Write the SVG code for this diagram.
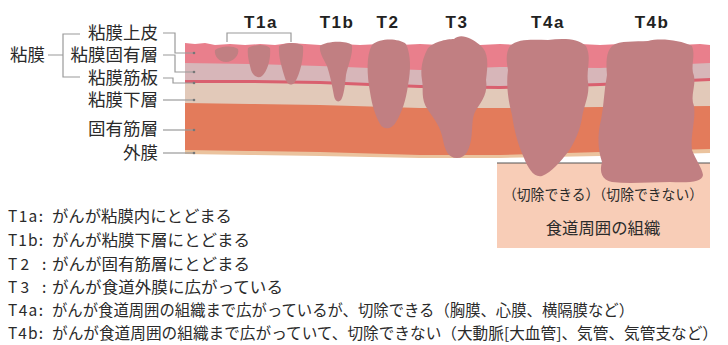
<svg xmlns="http://www.w3.org/2000/svg" width="728" height="345" viewBox="0 0 728 345">
  <style>
    .jp { font-family: "Noto Sans CJK JP", "Noto Sans", sans-serif; fill: #2a2a2a; }
    .lbl { font-size: 17.5px; text-anchor: end; }
    .leg { font-size: 15.5px; }
    .stage { font-family: "Liberation Sans", Arial, sans-serif; font-weight: bold; font-size: 17px; letter-spacing: 1.5px; fill: #222; text-anchor: middle; }
    .lead { fill: none; stroke: #9a9a9a; stroke-width: 1.2; }
    .dot { fill: #777; }
    .tumor { fill: #C17F82; }
  </style>

  <!-- wall layers, drawn deepest first so each upper layer covers the one below -->
  <g id="wall">
    <polygon id="adventitia" fill="#EBC39E" points="185,50 710,50 710,153 600,156 500,158 420,158 320,156 250,155 185,154"/>
    <polygon id="muscularis-propria" fill="#E37B5B" points="185,50 710,50 710,149 600,152 500,155 420,155 320,152 250,151 185,150"/>
    <polygon id="submucosa" fill="#E2C9B9" points="185,50 710,50 710,106 600,107 500,108 420,108 320,105 250,104 185,103"/>
    <polygon id="muscularis-mucosae" fill="#D9606F" points="185,50 710,50 710,81 600,86 500,89 420,88 320,84 250,83 185,83"/>
    <polygon id="lamina-propria" fill="#D7B6B9" points="185,50 710,50 710,78 600,83 500,86 420,85 320,81 250,80 185,80"/>
    <polygon id="epithelium" fill="#E97F8C" points="185,43 195,44 205,43 215,45 230,44 245,45 260,44 275,45 290,43 305,44 320,45 340,44 360,45 380,44 400,45 420,44 440,45 460,44 480,45 500,44 520,45 540,44 560,45 580,44 600,45 620,44 640,43 660,44 680,45 700,44 710,45 710,63 600,68 500,67 420,70 320,66 250,64 185,63"/>
  </g>

  <!-- surrounding tissue -->
  <g id="surrounding-tissue">
    <rect x="497" y="163" width="213" height="85" fill="#F8CDB7"/>
    <line x1="497" y1="163" x2="710" y2="163" stroke="#555" stroke-width="1.2"/>
    <text class="jp" x="503" y="200" font-size="14.3" textLength="200" lengthAdjust="spacingAndGlyphs">（切除できる）（切除できない）</text>
    <text class="jp" x="603" y="234" font-size="16.4" text-anchor="middle">食道周囲の組織</text>
  </g>

  <!-- tumours by stage -->
  <g id="tumor-T1a">
    <path class="tumor" d="M215,50 C220,46 233,45 238,49 C240,55 233,62 226,62 C219,62 214,56 215,50 Z"/>
    <path class="tumor" d="M248,48 C255,44 266,44 270,48 C271,58 268,70 262,76 C258,79 253,76 251,70 C249,62 247,55 248,48 Z"/>
    <path class="tumor" d="M279,46 C286,42 298,42 303,46 C304,58 300,74 295,82 C291,87 287,84 285,78 C282,68 278,56 279,46 Z"/>
  </g>
  <g id="tumor-T1b">
    <path class="tumor" d="M320,46 C326,41 346,40 352,45 C353,55 348,65 346,75 C345,85 344,95 341,100 C338,103 335,101 334,96 C332,85 330,75 327,66 C323,58 319,52 320,46 Z"/>
  </g>
  <g id="tumor-T2">
    <path class="tumor" d="M372,45 C380,38 398,38 406,44 C411,55 411,70 408,85 C406,100 402,112 396,122 C392,129 384,131 380,124 C375,115 372,105 370,92 C367,75 366,55 372,45 Z"/>
  </g>
  <g id="tumor-T3">
    <path class="tumor" d="M427,50 C431,42 447,39 454,39 C461,33 471,38 480,45 C489,52 488,65 486,80 C488,92 483,100 476,110 C471,118 473,130 471,140 C469,150 466,158 457,158 C448,158 445,150 443,140 C441,128 435,120 428,110 C420,98 424,90 422,80 C420,68 423,58 427,50 Z"/>
  </g>
  <g id="tumor-T4a">
    <path class="tumor" d="M510,46 C518,38 535,40 548,40 C562,38 578,38 586,46 C592,58 586,70 588,82 C590,95 584,105 582,118 C580,130 575,142 568,152 C560,162 552,172 542,176 C534,178 528,168 524,158 C518,145 514,130 512,115 C508,100 506,85 508,70 C506,60 506,52 510,46 Z"/>
  </g>
  <g id="tumor-T4b">
    <path class="tumor" d="M612,46 C620,40 635,42 648,41 C660,38 680,40 692,46 C696,56 690,66 694,76 C696,86 690,96 694,106 C696,120 690,135 692,150 C696,160 702,168 703,175 C702,182 690,183 670,182 C650,182 630,184 612,182 C602,180 599,172 602,162 C598,150 597,135 601,120 C604,105 604,90 607,75 C606,62 606,52 612,46 Z"/>
  </g>

  <!-- stage headings -->
  <g id="stage-labels">
    <text class="stage" x="261" y="28">T1a</text>
    <text class="stage" x="337" y="28">T1b</text>
    <text class="stage" x="388" y="28">T2</text>
    <text class="stage" x="457" y="28">T3</text>
    <text class="stage" x="548" y="28">T4a</text>
    <text class="stage" x="652" y="28">T4b</text>
  </g>

  <!-- layer names -->
  <g id="layer-labels">
    <text class="jp lbl" x="45" y="61">粘膜</text>
    <text class="jp lbl" x="158" y="39">粘膜上皮</text>
    <text class="jp lbl" x="158" y="61">粘膜固有層</text>
    <text class="jp lbl" x="158" y="84">粘膜筋板</text>
    <text class="jp lbl" x="158" y="106">粘膜下層</text>
    <text class="jp lbl" x="158" y="135">固有筋層</text>
    <text class="jp lbl" x="158" y="159">外膜</text>
  </g>

  <!-- leader lines and brackets -->
  <g id="connectors">
    <path class="lead" d="M48,55 H63 M80,34 H63 V77 H80"/>
    <path class="lead" d="M163,33 H175 V53 H194"/>
    <path class="lead" d="M163,55 H175 V72 H194"/>
    <path class="lead" d="M163,78 H173 V83 H194"/>
    <path class="lead" d="M163,100 H194"/>
    <path class="lead" d="M163,130 H194"/>
    <path class="lead" d="M163,153 H194"/>
    <path class="lead" d="M227,42 V33 H291 V42"/>
    <circle class="dot" cx="194" cy="53" r="1.3"/>
    <circle class="dot" cx="194" cy="72" r="1.3"/>
    <circle class="dot" cx="194" cy="83" r="1.3"/>
    <circle class="dot" cx="194" cy="100" r="1.3"/>
    <circle class="dot" cx="194" cy="130" r="1.3"/>
    <circle class="dot" cx="194" cy="153" r="1.3"/>
  </g>

  <!-- legend -->
  <g id="legend">
    <text class="jp leg" y="221.5"><tspan x="8" textLength="35" lengthAdjust="spacing">T1a:</tspan><tspan x="52" textLength="180" lengthAdjust="spacingAndGlyphs">がんが粘膜内にとどまる</tspan></text>
    <text class="jp leg" y="245.5"><tspan x="8" textLength="35" lengthAdjust="spacing">T1b:</tspan><tspan x="52" textLength="198" lengthAdjust="spacingAndGlyphs">がんが粘膜下層にとどまる</tspan></text>
    <text class="jp leg" y="269.5"><tspan x="8" textLength="21" lengthAdjust="spacing">T2</tspan><tspan x="42">:</tspan><tspan x="52" textLength="198" lengthAdjust="spacingAndGlyphs">がんが固有筋層にとどまる</tspan></text>
    <text class="jp leg" y="292.5"><tspan x="8" textLength="21" lengthAdjust="spacing">T3</tspan><tspan x="42">:</tspan><tspan x="52" textLength="231" lengthAdjust="spacingAndGlyphs">がんが食道外膜に広がっている</tspan></text>
    <text class="jp leg" y="315.5"><tspan x="8" textLength="35" lengthAdjust="spacing">T4a:</tspan><tspan x="52" textLength="582" lengthAdjust="spacingAndGlyphs">がんが食道周囲の組織まで広がっているが、切除できる（胸膜、心膜、横隔膜など）</tspan></text>
    <text class="jp leg" y="338.5"><tspan x="8" textLength="35" lengthAdjust="spacing">T4b:</tspan><tspan x="52" textLength="666" lengthAdjust="spacingAndGlyphs">がんが食道周囲の組織まで広がっていて、切除できない（大動脈[大血管]、気管、気管支など）</tspan></text>
  </g>
</svg>
